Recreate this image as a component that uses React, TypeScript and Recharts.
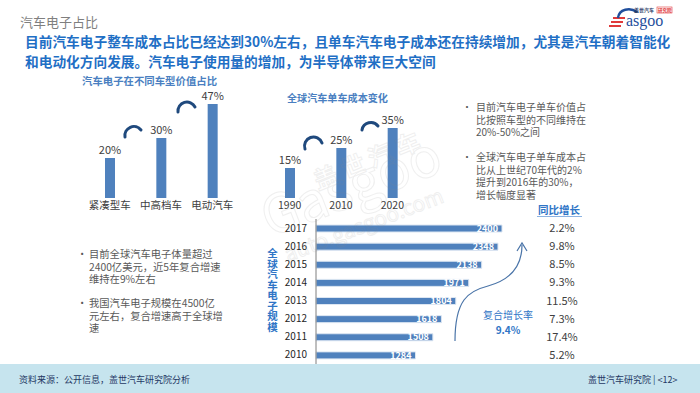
import React from "react";
import { Bar, BarChart, LabelList, XAxis, YAxis } from "recharts";

const FONT = '"Noto Sans CJK SC", "Noto Sans", sans-serif';

// 汽车电子在不同车型价值占比
const vehicleTypes = ["紧凑型车", "中高档车", "电动汽车"];
const vehicleShare = [20, 30, 47];

// 全球汽车单车成本变化
const costYears = ["1990", "2010", "2020"];
const costShare = [15, 25, 35];

// 全球汽车电子规模
const marketYears = ["2017", "2016", "2015", "2014", "2013", "2012", "2011", "2010"];
const marketSize = [2400, 2348, 2138, 1971, 1804, 1618, 1508, 1284];
const yoyGrowth = ["2.2%", "9.8%", "8.5%", "9.3%", "11.5%", "7.3%", "17.4%", "5.2%"];

const vehicleData = vehicleTypes.map((name, i) => ({ name, value: vehicleShare[i] }));
const costData = costYears.map((name, i) => ({ name, value: costShare[i] }));
const marketData = marketYears.map((year, i) => ({ year, value: marketSize[i] }));

const BAR = "#4F81BD";
const BLUE = "#2F75C6";
const GRAY = "#595959";

type TProps = {
  x: number;
  y: number;
  size: number;
  color?: string;
  bold?: boolean;
  lh?: number;
  center?: boolean;
  children: React.ReactNode;
  style?: React.CSSProperties;
};

function T({ x, y, size, color = GRAY, bold, lh, center, children, style }: TProps) {
  const lineHeight = lh ?? size * 1.2;
  return (
    <div
      style={{
        position: "absolute",
        left: x,
        top: y - lineHeight / 2,
        fontSize: size,
        lineHeight: `${lineHeight}px`,
        color,
        fontWeight: bold ? 700 : 400,
        whiteSpace: "pre",
        transform: center ? "translateX(-50%)" : undefined,
        ...style
      }}
    >
      {children}
    </div>
  );
}

function GrowthTick(props: any) {
  const { x, y, payload } = props;
  const i = marketYears.indexOf(payload.value);
  return (
    <text x={x} y={y} dy={4} textAnchor="middle" fill="#404040" fontSize={11} fontFamily={FONT}>
      {yoyGrowth[i]}
    </text>
  );
}

function SmallBars({ data }: { data: { name: string; value: number }[] }) {
  return (
    <BarChart width={154} height={135} data={data} margin={{ top: 13, right: 0, left: 0, bottom: 0 }}>
      <XAxis
        dataKey="name"
        axisLine={false}
        tickLine={false}
        height={22}
        tickSize={0}
        tickMargin={4}
        interval={0}
        tick={{ fill: "#404040", fontSize: 10.5, fontFamily: FONT }}
      />
      <YAxis hide domain={[0, 50]} />
      <Bar dataKey="value" fill={BAR} barSize={10} isAnimationActive={false}>
        <LabelList
          dataKey="value"
          position="top"
          offset={4}
          formatter={(v: any) => `${v}%`}
          fill="#404040"
          fontSize={11}
          fontFamily={FONT}
        />
      </Bar>
    </BarChart>
  );
}

export default function App() {
  return (
    <div
      style={{
        position: "relative",
        width: 700,
        height: 393,
        background: "#fff",
        overflow: "hidden",
        fontFamily: FONT
      }}
    >
      <style>{"body{margin:0}"}</style>

      <T x={20} y={22} size={13} color="#7f7f7f">汽车电子占比</T>
      <T x={25} y={41} size={13.7} lh={15} color="#1F6FC5" bold>
        目前汽车电子整车成本占比已经达到30%左右，且单车汽车电子成本还在持续增加，尤其是汽车朝着智能化
      </T>
      <T x={25} y={61} size={13.7} lh={15} color="#1F6FC5" bold>
        和电动化方向发展。汽车电子使用量的增加，为半导体带来巨大空间
      </T>

      <T x={82} y={81} size={10.4} lh={12} color="#4A7FC1" bold>汽车电子在不同车型价值占比</T>
      <T x={287} y={98} size={10.1} lh={12} color="#4A7FC1" bold>全球汽车单车成本变化</T>

      <div style={{ position: "absolute", left: 84, top: 85 }}>
        <SmallBars data={vehicleData} />
      </div>
      <div style={{ position: "absolute", left: 264, top: 85 }}>
        <SmallBars data={costData} />
      </div>

      {/* top-right notes */}
      <T x={462} y={107} size={10} lh={12.5}>•</T>
      <T x={476} y={119.5} size={10} lh={12.5} style={{ top: 101 }}>
        {"目前汽车电子单车价值占\n比按照车型的不同维持在\n20%-50%之间"}
      </T>
      <T x={462} y={157} size={10} lh={12.5}>•</T>
      <T x={476} y={157} size={10} lh={12.5} style={{ top: 151 }}>
        {"全球汽车电子单车成本占\n比从上世纪70年代的2%\n提升到2016年的30%，\n增长幅度显著"}
      </T>

      {/* bottom-left notes */}
      <T x={77} y={254} size={10.3} lh={12.5}>•</T>
      <T x={89} y={254} size={10.3} lh={12.5} style={{ top: 248 }}>
        {"目前全球汽车电子体量超过\n2400亿美元，近5年复合增速\n维持在9%左右"}
      </T>
      <T x={77} y={303} size={10.3} lh={12.5}>•</T>
      <T x={89} y={303} size={10.3} lh={12.5} style={{ top: 297 }}>
        {"我国汽车电子规模在4500亿\n元左右，复合增速高于全球增\n速"}
      </T>

      {/* market size chart */}
      <div
        style={{
          position: "absolute",
          left: 265,
          top: 248,
          fontSize: 10.5,
          lineHeight: "14px",
          letterSpacing: 0,
          color: BLUE,
          fontWeight: 700,
          writingMode: "vertical-rl"
        }}
      >
        全球汽车电子规模
      </div>

      <div style={{ position: "absolute", left: 260, top: 219 }}>
        <BarChart
          layout="vertical"
          width={342}
          height={145}
          data={marketData}
          margin={{ top: 0, right: 0, left: 0, bottom: 0 }}
        >
          <XAxis type="number" hide domain={[0, 2400]} />
          <YAxis
            yAxisId="year"
            type="category"
            dataKey="year"
            width={56}
            interval={0}
            axisLine={{ stroke: "#7f7f7f" }}
            tickLine={false}
            tickSize={4}
            tickMargin={5}
            tick={{ fill: "#262626", fontSize: 10, fontFamily: FONT }}
          />
          <YAxis
            yAxisId="growth"
            orientation="right"
            type="category"
            dataKey="year"
            width={100}
            interval={0}
            axisLine={false}
            tickLine={false}
            tickSize={0}
            tickMargin={60}
            tick={<GrowthTick />}
          />
          <Bar
            yAxisId="year"
            dataKey="value"
            fill={BAR}
            stroke="#DCE6F2"
            strokeWidth={1}
            barSize={7}
            isAnimationActive={false}
          >
            <LabelList
              dataKey="value"
              position="insideRight"
              offset={4}
              fill="#fff"
              fontSize={9}
              fontWeight={700}
              fontFamily={FONT}
            />
          </Bar>
        </BarChart>
      </div>

      <T x={559} y={210} size={10.5} color={BLUE} bold center>同比增长</T>
      <div style={{ position: "absolute", left: 537, top: 216, width: 45, height: 1, background: "#8DB3E2" }} />

      <T x={508} y={315} size={10} lh={12} color={BLUE} center>复合增长率</T>
      <T x={508} y={330} size={10} lh={12} color={BLUE} bold center>9.4%</T>

      {/* footer */}
      <div style={{ position: "absolute", left: 0, top: 364, width: 700, height: 29, background: "#C6E4EE" }} />
      <T x={19} y={380} size={9} color="#1F3864">资料来源：公开信息，盖世汽车研究院分析</T>
      <T x={588} y={380} size={9} color="#1F3864">盖世汽车研究院 | &lt;12&gt;</T>

      {/* decorations: arrows, logo, watermark */}
      <svg
        width={700}
        height={393}
        style={{ position: "absolute", left: 0, top: 0, pointerEvents: "none" }}
      >
        <g fill="none" stroke="#1F497D" strokeWidth={3} strokeLinecap="round">
          <path d="M125,137 A9,9 0 0 1 141,130" />
          <path d="M178,112 A9,9 0 0 1 195,107" />
          <path d="M305,149 A9,9 0 0 1 322,143" />
          <path d="M362,130 A9,9 0 0 1 378,126" />
        </g>
        <g fill="none" stroke="#4A74A8" strokeWidth={1.2}>
          <path d="M455,341 C455,300 468,291 488,286 C510,280 522,266 522,245" />
          <path d="M517,251 L522,243 L527,251" />
        </g>

        {/* logo */}
        <g>
          <rect x={613} y={17} width={12} height={2} fill="#E03A3A" />
          <rect x={611} y={21} width={12} height={2} fill="#E03A3A" />
          <rect x={609} y={25} width={12} height={2} fill="#E03A3A" />
          <path d="M637,12 C630,7 619,9 618,18" fill="none" stroke="#1F4E9C" strokeWidth={2.5} />
          <text x={626} y={26} fontSize={16} fill="#1F4E9C" fontFamily='"Liberation Serif", serif'>asgoo</text>
          <text x={634} y={12} fontSize={5} fill="#1F3864" fontFamily={FONT} fontWeight={700}>盖世汽车</text>
          <rect x={657} y={7} width={15} height={6} fill="#fff" stroke="#E03A3A" strokeWidth={0.6} />
          <text x={658} y={12} fontSize={4.5} fill="#E03A3A" fontFamily={FONT} fontWeight={700}>研究院</text>
        </g>

        {/* watermark */}
        <g opacity={0.13} fill="none" stroke="#8a8a8a" strokeWidth={1}>
          <text x={318} y={190} fontSize={24} fontFamily={FONT} fontWeight={700} transform="rotate(-22 318 190)">
            盖 世 汽 车
          </text>
          <text x={270} y={238} fontSize={54} fontFamily={FONT} transform="rotate(-21 270 238)">
            Gasgoo
          </text>
          <text x={288} y={262} fontSize={21} fontFamily={FONT} transform="rotate(-21 288 262)">
            auto.gasgoo.com
          </text>
        </g>
      </svg>
    </div>
  );
}
